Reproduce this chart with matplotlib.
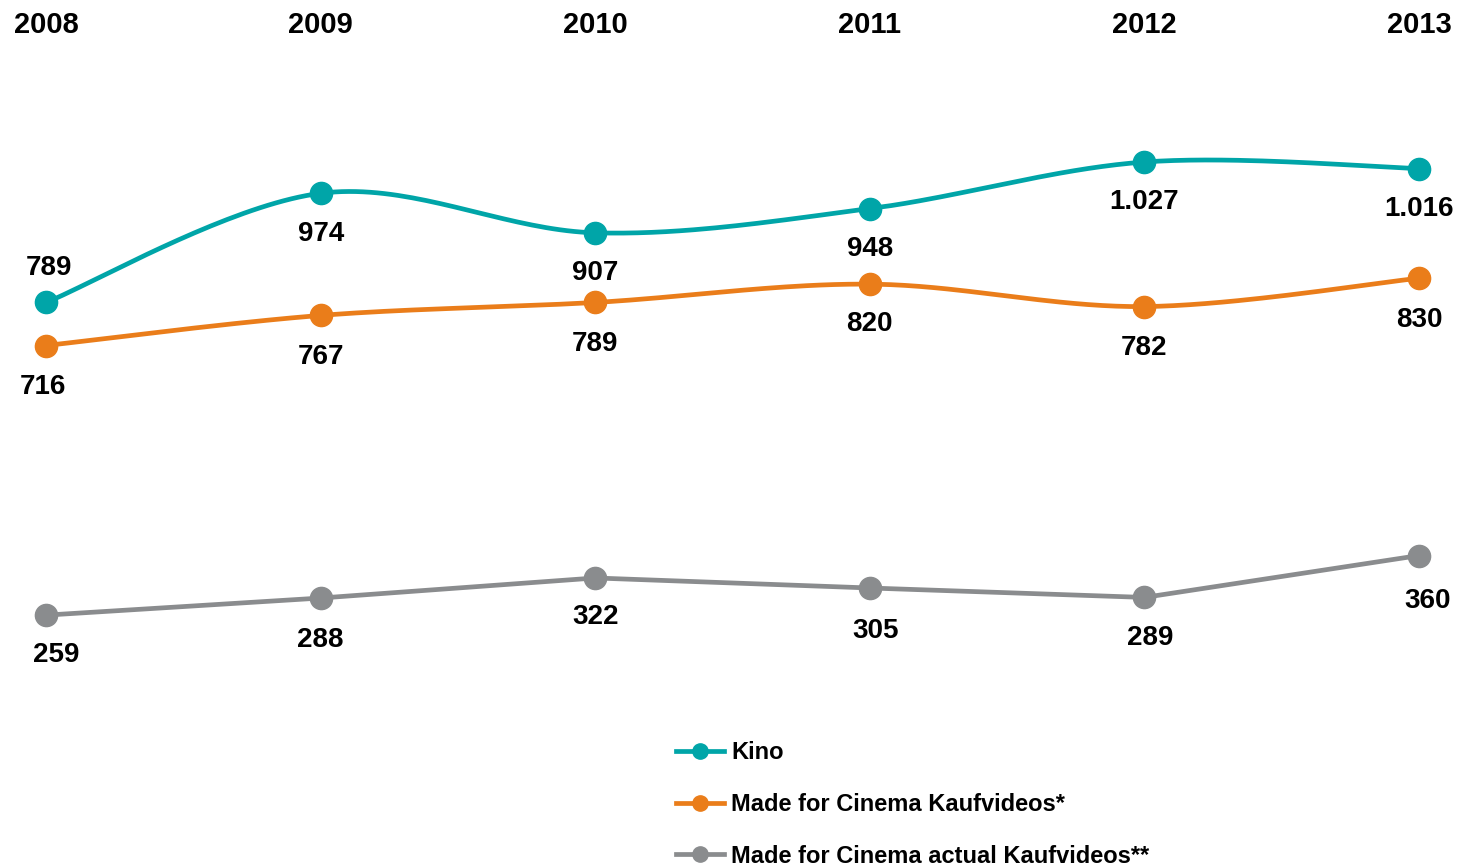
import numpy as np
import matplotlib
matplotlib.use("Agg")
import matplotlib.pyplot as plt
from matplotlib.lines import Line2D

plt.rcParams['font.family'] = ['Liberation Sans', 'DejaVu Sans']
plt.rcParams['font.weight'] = 'bold'

years = [2008, 2009, 2010, 2011, 2012, 2013]
kino = [789, 974, 907, 948, 1027, 1016]
kauf = [716, 767, 789, 820, 782, 830]
actual = [259, 288, 322, 305, 289, 360]

kino_labels = ["789", "974", "907", "948", "1.027", "1.016"]
kauf_labels = ["716", "767", "789", "820", "782", "830"]
actual_labels = ["259", "288", "322", "305", "289", "360"]

series_names = ["Kino", "Made for Cinema Kaufvideos*", "Made for Cinema actual Kaufvideos**"]
colors = ["#00A5A8", "#EA7D1A", "#8A8C8E"]


def smooth(xs, ys, n=40):
    # excel-like smoothed line: cubic bezier with catmull-rom control points
    xs = np.asarray(xs, float)
    ys = np.asarray(ys, float)
    px, py = [], []
    m = len(xs)
    for i in range(m - 1):
        i0 = max(i - 1, 0)
        i3 = min(i + 2, m - 1)
        p0 = np.array([xs[i], ys[i]])
        p3 = np.array([xs[i + 1], ys[i + 1]])
        c1 = p0 + (p3 - np.array([xs[i0], ys[i0]])) / 6
        c2 = p3 - (np.array([xs[i3], ys[i3]]) - p0) / 6
        t = np.linspace(0, 1, n)[:, None]
        pts = ((1 - t) ** 3) * p0 + 3 * ((1 - t) ** 2) * t * c1 + 3 * (1 - t) * t ** 2 * c2 + t ** 3 * p3
        px.extend(pts[:, 0])
        py.extend(pts[:, 1])
    return px, py


fig = plt.figure(figsize=(14.59, 8.68), dpi=100)
ax = fig.add_axes([0, 0, 1, 1])
ax.set_xlim(2007.832, 2013.146)
ax.set_ylim(-169.6, 1301.6)
ax.axis('off')

lw = 3.4
ms = 16

sx, sy = smooth(years, kino)
ax.plot(sx, sy, color=colors[0], lw=lw, solid_capstyle='round')
ax.plot(years, kino, 'o', color=colors[0], ms=ms)

sx, sy = smooth(years, kauf)
ax.plot(sx, sy, color=colors[1], lw=lw, solid_capstyle='round')
ax.plot(years, kauf, 'o', color=colors[1], ms=ms)

ax.plot(years, actual, 'o-', color=colors[2], ms=ms, lw=lw)

fs = 20
# labels
kino_off = [(2, 25), (0, -29), (0, -29), (0, -29), (0, -29), (0, -29)]
for x, y, t, o in zip(years, kino, kino_labels, kino_off):
    ax.annotate(t, (x, y), xytext=o, textcoords='offset points', ha='center', va='center',
                fontsize=fs, fontweight='bold')
kauf_off = [(-2, -30), (0, -30), (0, -30), (0, -29), (0, -30), (0, -30)]
for x, y, t, o in zip(years, kauf, kauf_labels, kauf_off):
    ax.annotate(t, (x, y), xytext=o, textcoords='offset points', ha='center', va='center',
                fontsize=fs, fontweight='bold')
act_off = [(7, -29), (0, -30), (0, -28), (4, -31), (4, -29), (6, -33)]
for x, y, t, o in zip(years, actual, actual_labels, act_off):
    ax.annotate(t, (x, y), xytext=o, textcoords='offset points', ha='center', va='center',
                fontsize=fs, fontweight='bold')

# year headers on top
for x in years:
    ax.text(x, 1 - 25 / 868, str(x), transform=ax.get_xaxis_transform(), ha='center', va='center',
            fontsize=21, fontweight='bold')

handles = [Line2D([], [], color=c, lw=lw, marker='o', ms=11) for c in colors]
leg = ax.legend(handles, series_names, loc='upper left', bbox_to_anchor=(676 / 1459, 1 - 741 / 868),
                frameon=False, handlelength=2.05, handletextpad=0.3, labelspacing=1.22,
                borderaxespad=0, borderpad=0, prop={'weight': 'bold', 'size': 17})

fig.savefig("out.png", dpi=100)
